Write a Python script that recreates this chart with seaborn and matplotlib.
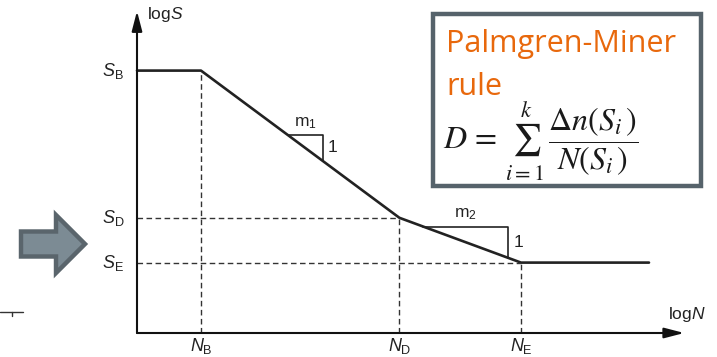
import matplotlib
matplotlib.use("Agg")
import matplotlib.pyplot as plt
import seaborn as sns
import pandas as pd
from matplotlib.patches import FancyArrow, Rectangle

sns.set_theme(style="white")
plt.rcParams["font.family"] = ["Liberation Sans", "DejaVu Sans"]
plt.rcParams["mathtext.fontset"] = "custom"
plt.rcParams["mathtext.rm"] = "Liberation Sans"
plt.rcParams["mathtext.it"] = "Liberation Sans:italic"

# S-N curve corner points (log N, log S)
log_n = [0.0, 1.0, 4.1, 6.0, 8.0]
log_s = [4.1, 4.1, 1.8, 1.1, 1.1]
# characteristic points and labels
n_marks = [1.0, 4.1, 6.0]
n_labels = [r"$\mathit{N}_\mathrm{B}$", r"$\mathit{N}_\mathrm{D}$", r"$\mathit{N}_\mathrm{E}$"]
s_marks = [4.1, 1.8, 1.1]
s_labels = [r"$\mathit{S}_\mathrm{B}$", r"$\mathit{S}_\mathrm{D}$", r"$\mathit{S}_\mathrm{E}$"]

W, H = 717, 357
fig = plt.figure(figsize=(W / 100, H / 100), dpi=100)
fig.patch.set_facecolor("white")

# 64 px per log unit, origin at (137, 333) px
u = 64.0
ox, oy = 137, 333
ax = fig.add_axes([0, 0, 1, 1])
ax.set_xlim(-ox / u, (W - ox) / u)
ax.set_ylim(-(H - oy) / u, oy / u)
ax.axis("off")

df = pd.DataFrame({"logN": log_n, "logS": log_s})
sns.lineplot(data=df, x="logN", y="logS", ax=ax, color="#222222", lw=1.9,
             sort=False, estimator=None)

# dashed projections
dash = dict(color="#333333", lw=1.0, ls=(0, (4, 2.5)))
ax.plot([log_n[1], log_n[1]], [0, log_s[1]], **dash)
ax.plot([log_n[2], log_n[2]], [0, log_s[2]], **dash)
ax.plot([log_n[3], log_n[3]], [0, log_s[3]], **dash)
ax.plot([0, log_n[2]], [log_s[2], log_s[2]], **dash)
ax.plot([0, log_n[3]], [log_s[3], log_s[3]], **dash)

# axes with arrow heads
head = "-|>,head_length=1.0,head_width=0.26"
ax.annotate("", xy=(8.55, 0), xytext=(0, 0),
            arrowprops=dict(arrowstyle=head, color="#111111", lw=1.5,
                            shrinkA=0, shrinkB=0))
ax.annotate("", xy=(0, 5.03), xytext=(0, 0),
            arrowprops=dict(arrowstyle=head, color="#111111", lw=1.5,
                            shrinkA=0, shrinkB=0))
ax.text(0.16, 4.98, r"log$\mathit{S}$", fontsize=12.5, ha="left", va="center", color="#222222")
ax.text(8.3, 0.29, r"log$\mathit{N}$", fontsize=12.5, ha="left", va="center", color="#222222")

for v, lab in zip(n_marks, n_labels):
    ax.text(v, -0.2, lab, fontsize=13, ha="center", va="center", color="#222222")
for v, lab in zip(s_marks, s_labels):
    ax.text(-0.2, v, lab, fontsize=13, ha="right", va="center", color="#222222")


# slope triangles along each sloped segment
def slope_triangle(x0, x1, seg, label):
    (xa, ya), (xb, yb) = seg
    k = (yb - ya) / (xb - xa)
    y0 = ya + k * (x0 - xa)
    y1 = ya + k * (x1 - xa)
    ax.plot([x0, x1, x1], [y0, y0, y1], color="#222222", lw=1.2)
    ax.text((x0 + x1) / 2, y0 + 0.19, label, fontsize=12.5, ha="center",
            va="center", color="#222222")
    ax.text(x1 + 0.08, (y0 + y1) / 2, "1", fontsize=12.5, ha="left", va="center",
            color="#222222")


slope_triangle(2.36, 2.9, ((log_n[1], log_s[1]), (log_n[2], log_s[2])), r"m$_\mathrm{1}$")
slope_triangle(4.47, 5.8, ((log_n[2], log_s[2]), (log_n[3], log_s[3])), r"m$_\mathrm{2}$")

# overlay in pixel units for the rule box and block arrow
deco = fig.add_axes([0, 0, 1, 1], facecolor="none")
deco.set_xlim(0, W)
deco.set_ylim(H, 0)
deco.axis("off")

deco.add_patch(Rectangle((433, 14), 268, 172, facecolor="white",
                         edgecolor="#56636b", lw=3.2, zorder=3))
deco.text(446, 44, "Palmgren-Miner", fontsize=22, color="#e8680c",
          family="Open Sans", ha="left", va="center", zorder=4)
deco.text(446, 87, "rule", fontsize=22, color="#e8680c",
          family="Open Sans", ha="left", va="center", zorder=4)
deco.text(443, 142,
          r"$D\,=\,\sum_{i=1}^{k}\,\dfrac{\Delta n(S_i\,)}{N(S_i\,)}$",
          fontsize=23, math_fontfamily="stix", color="#1a1a1a",
          ha="left", va="center", zorder=4)

deco.add_patch(FancyArrow(21, 244, 64, 0, width=25, head_width=58,
                          head_length=29, length_includes_head=True,
                          facecolor="#7c8b94", edgecolor="#5a656c", lw=3.2))

# small leftover rule at the lower left
deco.plot([0, 23], [312, 312], color="#333333", lw=1.0)
deco.plot([12, 12], [312, 316], color="#333333", lw=1.0)

fig.savefig("out.png", dpi=100, facecolor="white")
